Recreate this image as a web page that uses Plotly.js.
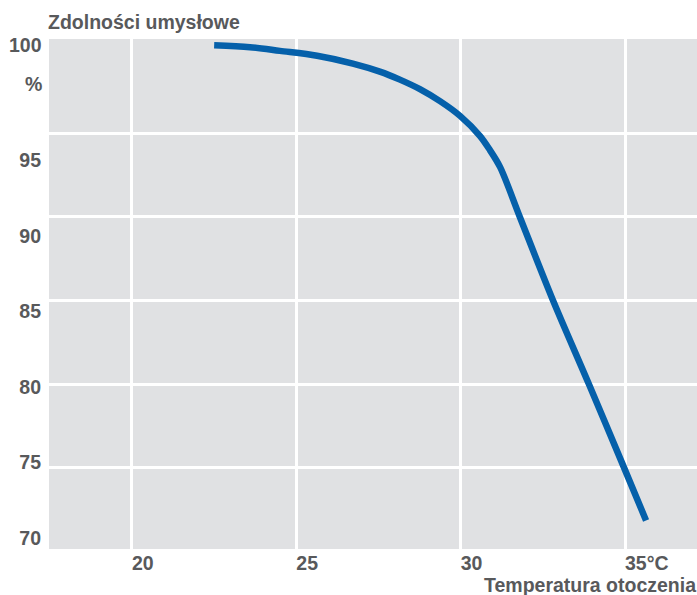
<!DOCTYPE html>
<html>
<head>
<meta charset="utf-8">
<script src="https://cdn.plot.ly/plotly-3.0.1.min.js"></script>
<style>html,body{margin:0;padding:0;background:#fff;}#chart{width:697px;height:595px;}</style>
</head>
<body>
<div id="chart"></div>
<script>
// Data
const temperature = [22.50, 23.59, 24.50, 25.63, 26.72, 27.54, 28.15, 28.76, 29.37, 29.98, 30.59, 30.89, 31.20, 31.80, 32.81, 33.90, 34.97, 35.64];
const performance = [100.27, 100.16, 99.94, 99.65, 99.18, 98.70, 98.22, 97.65, 96.93, 96.05, 94.84, 94.0, 92.98, 90.0, 85.0, 80.0, 75.0, 71.84];
const xTickVals = [20, 25, 30, 35];
const xTickText = ["20", "25", "30", "35°C"];
const yGridVals = [75, 80, 85, 90, 95];
const yTickVals = [70, 75, 80, 85, 90, 95];
const yTickText = ["70", "75", "80", "85", "90", "95"];
const yTitle = "Zdolności umysłowe";
const xTitle = "Temperatura otoczenia";
const yTopLabel = "100";
const yUnit = "%";

const textColor = "#58595b";
const fontFam = "Liberation Sans, Arial, Helvetica, sans-serif";
const fs = 19.5;
const boldFont = {family: fontFam, size: fs, color: textColor, weight: "bold"};

const trace = {
  x: temperature, y: performance, type: "scatter", mode: "lines",
  line: {color: "#0560aa", width: 6.5, shape: "spline", smoothing: 0.9},
  hoverinfo: "skip", showlegend: false
};

const layout = {
  width: 697, height: 595,
  margin: {l: 49, r: 0, t: 39, b: 46, pad: 0},
  paper_bgcolor: "#ffffff",
  plot_bgcolor: "#e0e1e3",
  font: {family: fontFam, color: textColor, size: fs},
  xaxis: {
    range: [17.475, 37.19], tickvals: xTickVals, ticktext: xTickText,
    showgrid: true, gridcolor: "#ffffff", gridwidth: 3,
    zeroline: false, showline: false, ticks: "",
    ticklabelposition: "outside right",
    tickfont: boldFont,
    fixedrange: true
  },
  yaxis: {
    range: [70.13, 100.65], tickvals: yGridVals,
    showgrid: true, gridcolor: "#ffffff", gridwidth: 3,
    zeroline: false, showline: false, ticks: "", showticklabels: false,
    fixedrange: true
  },
  yaxis2: {
    overlaying: "y", side: "left", range: [69.29, 103.0],
    tickvals: yTickVals, ticktext: yTickText,
    showgrid: false, zeroline: false, showline: false, ticks: "",
    ticklabelstandoff: 7,
    tickfont: boldFont,
    fixedrange: true
  },
  annotations: [
    {text: yTitle, xref: "paper", yref: "paper", x: 0, y: 1, xanchor: "left", yanchor: "bottom",
     xshift: -3, yshift: 4, showarrow: false, font: boldFont},
    {text: xTitle, xref: "paper", yref: "paper", x: 1, y: 0, xanchor: "right", yanchor: "top",
     yshift: -23, xshift: 1, showarrow: false, font: boldFont},
    {text: yTopLabel, xref: "paper", yref: "paper", x: 0, y: 1, xanchor: "right", yanchor: "middle",
     xshift: -5, yshift: -6, showarrow: false, font: boldFont},
    {text: yUnit, xref: "paper", yref: "paper", x: 0, y: 1, xanchor: "right", yanchor: "middle",
     xshift: -5, yshift: -45, showarrow: false, font: boldFont}
  ]
};

// invisible helper trace so the overlay label axis renders
const labelTrace = {x: [17.5], y: [70], yaxis: "y2", type: "scatter", mode: "markers",
  marker: {opacity: 0}, hoverinfo: "skip", showlegend: false};

Plotly.newPlot("chart", [trace, labelTrace], layout, {displayModeBar: false, staticPlot: true});
</script>
</body>
</html>
